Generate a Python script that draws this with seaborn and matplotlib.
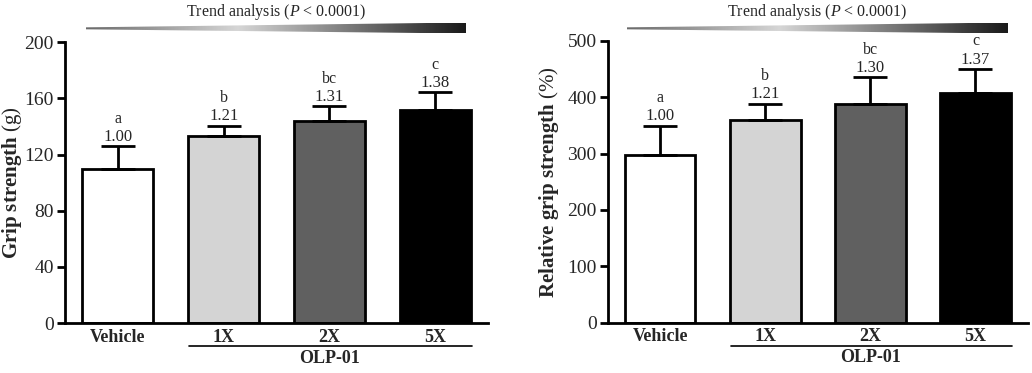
import numpy as np
import pandas as pd
import seaborn as sns
import matplotlib.pyplot as plt
from matplotlib.colors import LinearSegmentedColormap
from matplotlib.patches import Polygon
import matplotlib.transforms as mtransforms

# data
groups = ['Vehicle', '1X', '2X', '5X']
bar_colors = ['#ffffff', '#d4d4d4', '#606060', '#000000']

grip_mean = [110, 133, 144, 152]
grip_err = [16, 7.5, 10.5, 12.5]
grip_fold = ['1.00', '1.21', '1.31', '1.38']

rel_mean = [297, 359, 387, 407]
rel_err = [52, 29, 48, 43]
rel_fold = ['1.00', '1.21', '1.30', '1.37']

letters = ['a', 'b', 'bc', 'c']

sns.set_style('ticks')
plt.rcParams['font.family'] = ['Liberation Serif', 'DejaVu Serif']
plt.rcParams['mathtext.fontset'] = 'custom'
plt.rcParams['mathtext.rm'] = 'Liberation Serif'
plt.rcParams['mathtext.it'] = 'Liberation Serif:italic'
plt.rcParams['mathtext.bf'] = 'Liberation Serif:bold'

W, H = 1032, 373
fig = plt.figure(figsize=(W / 100, H / 100), dpi=100)


def px_box(x0, y0, x1, y1):
    # pixel box (top-left origin) -> figure fraction rect
    return [x0 / W, 1 - y1 / H, (x1 - x0) / W, (y1 - y0) / H]


def panel(rect, means, errs, folds, ymax, step, ylabel, label_x, wedge_px, text_x):
    ax = fig.add_axes(rect)
    df = pd.DataFrame({'group': groups, 'value': means})
    sns.barplot(data=df, x='group', y='value', hue='group', palette=bar_colors,
                legend=False, errorbar=None, width=0.67, edgecolor='black',
                linewidth=2, ax=ax)
    x = np.arange(len(groups))
    ax.errorbar(x, means, yerr=[np.zeros(len(errs)), errs], fmt='none',
                ecolor='black', elinewidth=2, capsize=12, capthick=2, zorder=1)
    for xi, m, e, f, l in zip(x, means, errs, folds, letters):
        ax.annotate(f, (xi, m + e), xytext=(0, 1), textcoords='offset points',
                    ha='center', va='bottom', fontsize=12)
        ax.annotate(l, (xi, m + e), xytext=(0, 14), textcoords='offset points',
                    ha='center', va='bottom', fontsize=11.5)
    ax.set_xlim(-0.5, 3.5)
    ax.set_ylim(0, ymax)
    ax.set_yticks(np.arange(0, ymax + 1, step))
    ax.tick_params(axis='y', labelsize=14, width=2, length=6, color='black', pad=2)
    ax.tick_params(axis='x', length=0, labelsize=13, pad=4)
    for lab in ax.get_xticklabels():
        lab.set_fontweight('bold')
    ax.set_xlabel('')
    ax.set_ylabel(ylabel, fontsize=15)
    ax.yaxis.set_label_coords(label_x, 0.5)
    sns.despine(ax=ax)
    for s in ['left', 'bottom']:
        ax.spines[s].set_linewidth(2)
        ax.spines[s].set_color('black')

    # OLP-01 bracket line under the treated groups
    trans = mtransforms.blended_transform_factory(ax.transData, ax.transAxes)
    ax.plot([0.67, 3.35], [-0.083, -0.083], color='black', lw=1.2,
            transform=trans, clip_on=False)
    ax.text(2.0, -0.125, 'OLP-01', transform=trans, ha='center', va='center',
            fontsize=13, fontweight='bold')

    # trend wedge with gradient
    wx0, wy0, wx1, wy1 = wedge_px
    wax = fig.add_axes(px_box(wx0, wy0, wx1, wy1))
    wax.set_axis_off()
    wax.set_xlim(0, 1)
    wax.set_ylim(0, 1)
    cmap = LinearSegmentedColormap.from_list(
        'trend', [(0, '#6a6a6a'), (0.4, '#d6d6d6'), (1, '#1a1a1a')])
    grad = np.linspace(0, 1, 256).reshape(1, -1)
    im = wax.imshow(grad, cmap=cmap, aspect='auto', extent=[0, 1, 0, 1])
    poly = Polygon([(0, 0.38), (1, 0.0), (1, 1.0), (0, 0.56)], closed=True,
                   transform=wax.transData, facecolor='none', edgecolor='none')
    wax.add_patch(poly)
    im.set_clip_path(poly)
    fig.text(text_x / W, 1 - 12 / H, r'Trend analysis ($\mathit{P}$ < 0.0001)',
             ha='center', va='center', fontsize=11.5)
    return ax


panel(px_box(65, 42.3, 488, 323), grip_mean, grip_err, grip_fold, 200, 40,
      r'$\mathbf{Grip\ strength}$ (g)', -0.097, (86, 22.5, 466, 33.5), 276)
panel(px_box(607.7, 40.7, 1028, 322.7), rel_mean, rel_err, rel_fold, 500, 100,
      r'$\mathbf{Relative\ grip\ strength}$ (%)', -0.11, (627, 22.5, 1008, 33.5), 817)

fig.savefig('out.png', dpi=100)
